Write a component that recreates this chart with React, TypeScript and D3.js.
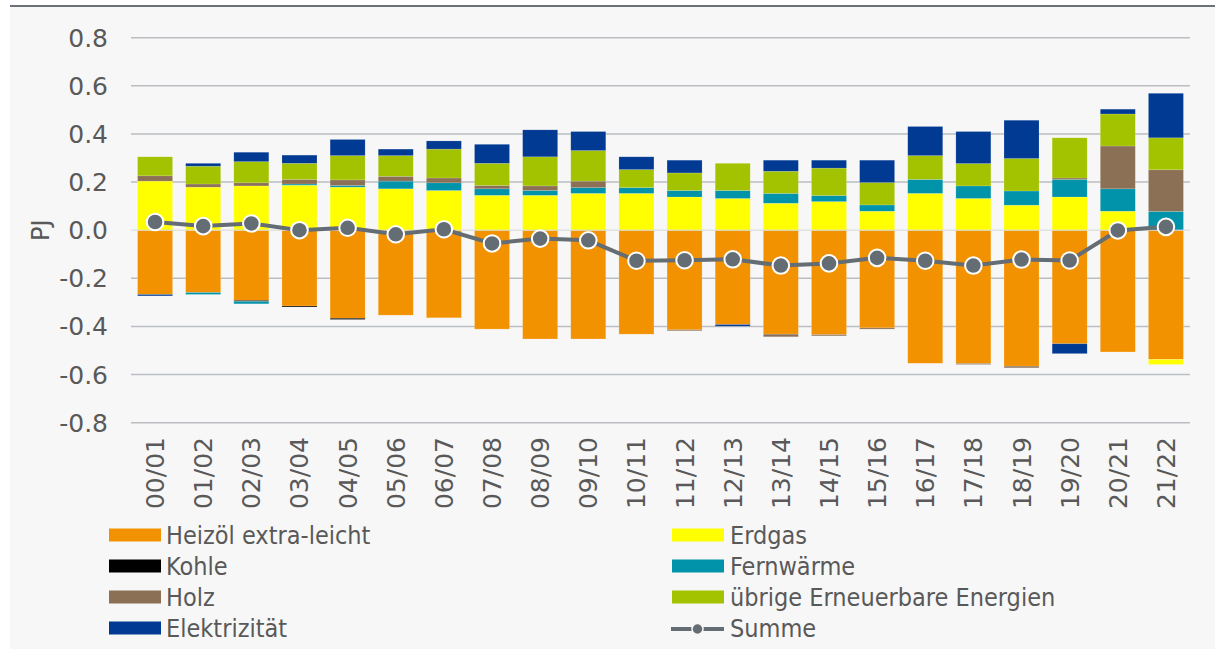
import React from "react";
import * as d3 from "d3";

const categories = ["00/01","01/02","02/03","03/04","04/05","05/06","06/07","07/08","08/09","09/10","10/11","11/12","12/13","13/14","14/15","15/16","16/17","17/18","18/19","19/20","20/21","21/22"];

const heizoel = [-0.267,-0.259,-0.292,-0.315,-0.366,-0.353,-0.364,-0.411,-0.452,-0.452,-0.432,-0.414,-0.392,-0.432,-0.434,-0.406,-0.553,-0.554,-0.565,-0.472,-0.506,-0.537];
const erdgas = [0.204,0.179,0.184,0.187,0.179,0.172,0.165,0.145,0.145,0.153,0.153,0.138,0.132,0.112,0.119,0.079,0.153,0.132,0.104,0.138,0.079,-0.021];
const kohle = [0,0,-0.004,-0.004,-0.005,0,0,0,0,0,0,0,0,0,0,0,0,0,0,0,0,0];
const fernwaerme = [0,-0.008,-0.010,0.005,0.007,0.032,0.032,0.027,0.020,0.024,0.024,0.027,0.033,0.041,0.025,0.026,0.058,0.052,0.059,0.073,0.093,0.078];
const holz = [0.022,0.013,0.013,0.019,0.023,0.020,0.020,0.014,0.019,0.027,0,-0.004,0,-0.011,-0.005,-0.005,0,-0.004,-0.007,0.006,0.178,0.173];
const uebrige = [0.079,0.074,0.088,0.067,0.101,0.086,0.120,0.092,0.121,0.127,0.075,0.073,0.113,0.092,0.114,0.093,0.099,0.093,0.135,0.167,0.133,0.133];
const elektrizitaet = [-0.006,0.012,0.039,0.034,0.067,0.027,0.034,0.079,0.112,0.079,0.053,0.053,-0.007,0.046,0.033,0.093,0.121,0.133,0.159,-0.041,0.020,0.185];
const summe = [0.034,0.017,0.028,0.0,0.01,-0.017,0.004,-0.055,-0.035,-0.042,-0.127,-0.125,-0.121,-0.147,-0.138,-0.115,-0.127,-0.147,-0.122,-0.126,-0.001,0.014];

const yTicks = [0.8,0.6,0.4,0.2,0,-0.2,-0.4,-0.6,-0.8];

const seriesDefs = [
  { key: "Heizöl extra-leicht", values: heizoel, color: "#F39200" },
  { key: "Erdgas", values: erdgas, color: "#FFFF00" },
  { key: "Kohle", values: kohle, color: "#000000" },
  { key: "Fernwärme", values: fernwaerme, color: "#0093A9" },
  { key: "Holz", values: holz, color: "#8B7055" },
  { key: "übrige Erneuerbare Energien", values: uebrige, color: "#A3C300" },
  { key: "Elektrizität", values: elektrizitaet, color: "#003A93" },
];

const sumColor = "#646C74";
const textColor = "#595959";

export default function App() {
  const W = 1215, H = 650;
  const x = d3.scaleBand<string>().domain(categories).range([131, 1190]).paddingInner(0.273).paddingOuter(0.1365);
  const y = d3.scaleLinear().domain([-0.8, 0.8]).range([422.7, 37.7]);

  const table = categories.map((c, i) => {
    const row: any = { cat: c };
    seriesDefs.forEach(s => { row[s.key] = s.values[i]; });
    return row;
  });
  const stack = d3.stack<any>().keys(seriesDefs.map(s => s.key)).offset(d3.stackOffsetDiverging);
  const stacked = stack(table);

  const line = d3.line<number>()
    .x((_, i) => (x(categories[i]) as number) + x.bandwidth() / 2)
    .y(d => y(d));

  const legendLeft = [seriesDefs[0], seriesDefs[2], seriesDefs[4], seriesDefs[6]];
  const legendRight = [seriesDefs[1], seriesDefs[3], seriesDefs[5]];
  const rows = [535, 566, 597, 628];

  const axisFont = "'DejaVu Sans', sans-serif";
  const legendFont = "'DejaVu Sans Condensed', 'DejaVu Sans', sans-serif";

  return (
    <svg width={W} height={H} style={{ position: "absolute", left: 0, top: 0 }}>
      <rect x={10} y={6} width={W - 10} height={643} fill="#F7F7F7" />
      <line x1={10} x2={W} y1={6} y2={6} stroke="#6B7178" strokeWidth={2} />

      {yTicks.filter(t => t !== 0).map(t => (
        <line key={"g" + t} x1={131} x2={1190} y1={y(t)} y2={y(t)} stroke="#BABEC2" strokeWidth={1.5} />
      ))}
      {yTicks.map(t => (
        <text key={"t" + t} x={108} y={y(t)} dy="0.36em" textAnchor="end" fontFamily={axisFont} fontSize={25} fill={textColor}>
          {t.toFixed(1)}
        </text>
      ))}
      <text transform={`translate(40,${y(0)}) rotate(-90)`} textAnchor="middle" dy="0.36em" fontFamily={axisFont} fontSize={24} fill={textColor}>PJ</text>

      {stacked.map((s, si) => (
        <g key={s.key} fill={seriesDefs[si].color}>
          {s.map((d, i) => {
            const y0 = y(d[0]), y1 = y(d[1]);
            const h = Math.abs(y0 - y1);
            if (h < 0.01) return null;
            return (
              <rect key={i} x={x(categories[i])} width={x.bandwidth()} y={Math.min(y0, y1)} height={h}
                stroke="rgba(255,255,255,0.25)" strokeWidth={0.6} />
            );
          })}
        </g>
      ))}

      <line x1={131} x2={1190} y1={y(0)} y2={y(0)} stroke="#D9D9D9" strokeWidth={1.5} strokeOpacity={0.7} />

      <path d={line(summe) || ""} fill="none" stroke={sumColor} strokeWidth={4} />
      {summe.map((v, i) => (
        <circle key={i} cx={(x(categories[i]) as number) + x.bandwidth() / 2} cy={y(v)} r={8.3} fill={sumColor} stroke="#FFFFFF" strokeWidth={2} />
      ))}

      {categories.map(c => (
        <text key={c} transform={`translate(${(x(c) as number) + x.bandwidth() / 2},437) rotate(-90)`} textAnchor="end" dy="0.36em"
          fontFamily={axisFont} fontSize={25} fill={textColor}>{c}</text>
      ))}

      {legendLeft.map((s, i) => (
        <g key={s.key}>
          <rect x={109} y={rows[i] - 6.5} width={52} height={13} fill={s.color} />
          <text x={166} y={rows[i]} dy="0.36em" fontFamily={legendFont} fontSize={25} fill={textColor}>{s.key}</text>
        </g>
      ))}
      {legendRight.map((s, i) => (
        <g key={s.key}>
          <rect x={672} y={rows[i] - 6.5} width={52} height={13} fill={s.color} />
          <text x={730} y={rows[i]} dy="0.36em" fontFamily={legendFont} fontSize={25} fill={textColor}>{s.key}</text>
        </g>
      ))}
      <g>
        <line x1={671} x2={724} y1={rows[3] + 1} y2={rows[3] + 1} stroke={sumColor} strokeWidth={4} />
        <circle cx={697.5} cy={rows[3] + 1} r={5.5} fill={sumColor} stroke="#F7F7F7" strokeWidth={1.5} />
        <text x={730} y={rows[3]} dy="0.36em" fontFamily={legendFont} fontSize={25} fill={textColor}>Summe</text>
      </g>
    </svg>
  );
}
